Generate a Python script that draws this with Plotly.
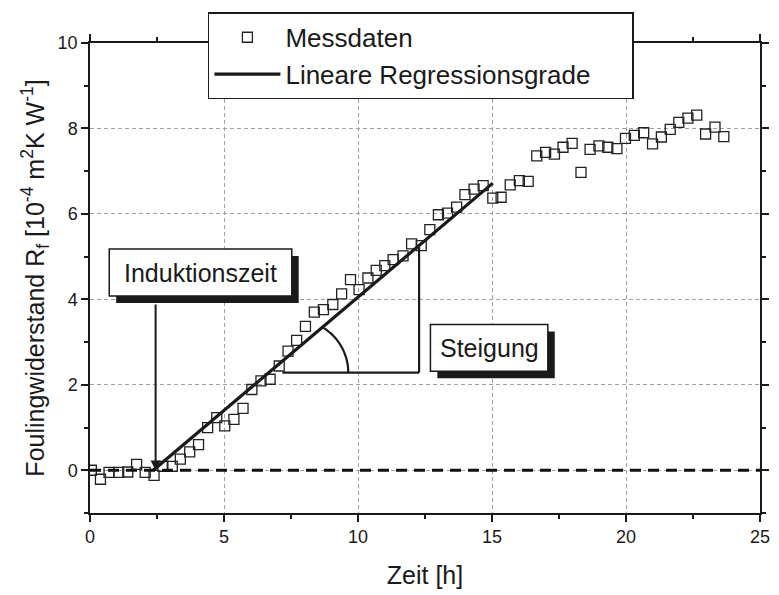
import numpy as np
import plotly.graph_objects as go

# ---------------- data ----------------
time_h = [0.05, 0.39, 0.71, 1.07, 1.41, 1.74, 2.06, 2.39, 2.72, 3.07, 3.37, 3.72,
          4.05, 4.39, 4.73, 5.03, 5.37, 5.71, 6.04, 6.38, 6.72, 7.06, 7.39, 7.71,
          8.04, 8.37, 8.71, 9.06, 9.39, 9.72, 10.04, 10.37, 10.68, 11.0, 11.31, 11.68,
          12.0, 12.36, 12.68, 13.0, 13.34, 13.68, 13.99, 14.33, 14.67, 15.03, 15.34, 15.68,
          16.02, 16.35, 16.67, 17.0, 17.33, 17.65, 17.99, 18.32, 18.66, 18.99, 19.32, 19.66,
          19.98, 20.31, 20.66, 20.99, 21.32, 21.65, 21.97, 22.31, 22.64, 22.97, 23.32, 23.65]
fouling = [0.0, -0.21, -0.05, -0.05, -0.04, 0.14, -0.05, -0.12, 0.09, 0.09, 0.26, 0.43,
           0.60, 1.00, 1.23, 1.04, 1.19, 1.45, 1.89, 2.09, 2.13, 2.44, 2.79, 3.04,
           3.37, 3.70, 3.76, 3.88, 4.13, 4.46, 4.23, 4.50, 4.68, 4.79, 4.93, 5.02,
           5.30, 5.26, 5.63, 5.98, 6.02, 6.16, 6.45, 6.58, 6.66, 6.37, 6.39, 6.68,
           6.78, 6.76, 7.36, 7.44, 7.40, 7.56, 7.65, 6.97, 7.51, 7.59, 7.56, 7.53,
           7.77, 7.84, 7.90, 7.64, 7.80, 7.98, 8.14, 8.24, 8.31, 7.87, 8.03, 7.81]
reg_time = [2.36, 15.03]
reg_fouling = [0.0, 6.72]

x_ticks = [0, 5, 10, 15, 20, 25]
y_ticks = [0, 2, 4, 6, 8, 10]

# ---------------- layout geometry ----------------
W, H = 779, 595
ML, MR, MT, MB = 90, 10, 43, 81
X_RANGE = [0, 25]
Y_RANGE = [-1, 10]
PW = W - ML - MR
PH = H - MT - MB


def dx(px):
    return X_RANGE[0] + (px - ML) / PW * (X_RANGE[1] - X_RANGE[0])


def dy(py):
    return Y_RANGE[1] - (py - MT) / PH * (Y_RANGE[1] - Y_RANGE[0])


FONT = "Liberation Sans, Arial, sans-serif"
BIG = 25
PAD = "&nbsp;" * 5

fig = go.Figure()
fig.add_trace(go.Scatter(
    x=time_h, y=fouling, mode="markers", name="Messdaten", legendgroup="a",
    marker=dict(symbol="square-open", size=10, color="#222", line=dict(width=1.3, color="#222")),
))
fig.add_trace(go.Scatter(
    x=reg_time, y=reg_fouling, mode="lines", name="Lineare Regressionsgrade" + PAD, legendgroup="b",
    line=dict(color="#1a1a1a", width=3.2),
))

shapes = []
# zero reference line
shapes.append(dict(type="line", xref="x", yref="y", x0=X_RANGE[0], x1=X_RANGE[1], y0=0, y1=0,
                   line=dict(color="#111", width=3, dash="11px,7px"), layer="above"))


def box(px0, py0, px1, py1, off):
    shapes.append(dict(type="rect", xref="x", yref="y",
                       x0=dx(px0 + off), x1=dx(px1 + off), y0=dy(py0 + off), y1=dy(py1 + off),
                       fillcolor="#1a1a1a", line=dict(width=0), layer="above"))
    shapes.append(dict(type="rect", xref="x", yref="y",
                       x0=dx(px0), x1=dx(px1), y0=dy(py0), y1=dy(py1),
                       fillcolor="white", line=dict(color="#1a1a1a", width=1.5), layer="above"))


box(109.5, 249.5, 294.5, 296.5, 7)
box(435, 325, 554, 372, 7)

# slope triangle
tri_y = dy(373.3)
tri_x0 = dx(285)
tri_x1 = dx(423.5)
shapes.append(dict(type="line", xref="x", yref="y", x0=tri_x0, x1=tri_x1, y0=tri_y, y1=tri_y,
                   line=dict(color="#1a1a1a", width=2.2), layer="above"))
shapes.append(dict(type="line", xref="x", yref="y", x0=tri_x1, x1=tri_x1, y0=tri_y, y1=dy(247.5),
                   line=dict(color="#1a1a1a", width=2.2), layer="above"))
# angle arc
cxp, cyp, rp = 299.2, 373.3, 52.5
ang = np.linspace(0, np.radians(58.5), 30)
pts = [(dx(cxp + rp * np.cos(a)), dy(cyp - rp * np.sin(a))) for a in ang]
path = "M " + " L ".join(f"{px:.4f},{py:.4f}" for px, py in pts)
shapes.append(dict(type="path", xref="x", yref="y", path=path,
                   line=dict(color="#1a1a1a", width=2.2), layer="above"))

annotations = [
    dict(x=dx(202), y=dy(273), xref="x", yref="y", text="Induktionszeit", showarrow=False,
         font=dict(family=FONT, size=BIG, color="#1a1a1a")),
    dict(x=dx(494.5), y=dy(348.5), xref="x", yref="y", text="Steigung", showarrow=False,
         font=dict(family=FONT, size=BIG, color="#1a1a1a")),
    dict(x=dx(156.5), y=dy(471.5), xref="x", yref="y", ax=dx(156.5), ay=dy(303.5),
         axref="x", ayref="y", text="", showarrow=True, arrowhead=2, arrowsize=1,
         arrowwidth=2, arrowcolor="#1a1a1a"),
]

axis_common = dict(
    showline=True, linecolor="#1a1a1a", linewidth=1.5, mirror="ticks",
    ticks="outside", ticklen=7, tickwidth=1.5, tickcolor="#1a1a1a",
    showgrid=True, gridcolor="#a0a0a0", gridwidth=1, griddash="4px,3px",
    zeroline=False, tickfont=dict(family=FONT, size=18, color="#1a1a1a"),
)

fig.update_layout(
    width=W, height=H,
    margin=dict(l=ML, r=MR, t=MT, b=MB),
    paper_bgcolor="white", plot_bgcolor="white",
    font=dict(family=FONT, color="#1a1a1a"),
    xaxis=dict(range=X_RANGE, tickvals=x_ticks,
               minor=dict(ticks="outside", ticklen=4, tickwidth=1.5, tickcolor="#1a1a1a", dtick=2.5, showgrid=False),
               title=dict(text="Zeit [h]", font=dict(family=FONT, size=BIG), standoff=20),
               **axis_common),
    yaxis=dict(range=Y_RANGE, tickvals=y_ticks,
               minor=dict(ticks="outside", ticklen=4, tickwidth=1.5, tickcolor="#1a1a1a", dtick=1, showgrid=False),
               title=dict(text="Foulingwiderstand R<sub>f</sub> [10<sup>-4</sup> m<sup>2</sup>K W<sup>-1</sup>]",
                          font=dict(family=FONT, size=BIG), standoff=6),
               **axis_common),
    legend=dict(x=(209.5 - ML) / PW, y=(H - MB - 12.3) / PH, xanchor="left", yanchor="top",
                bgcolor="white", bordercolor="#1a1a1a", borderwidth=1.5,
                font=dict(family=FONT, size=26, color="#1a1a1a"),
                itemwidth=66, traceorder="grouped", tracegroupgap=0),
    shapes=shapes,
    annotations=annotations,
)

fig.write_html("out.html")
